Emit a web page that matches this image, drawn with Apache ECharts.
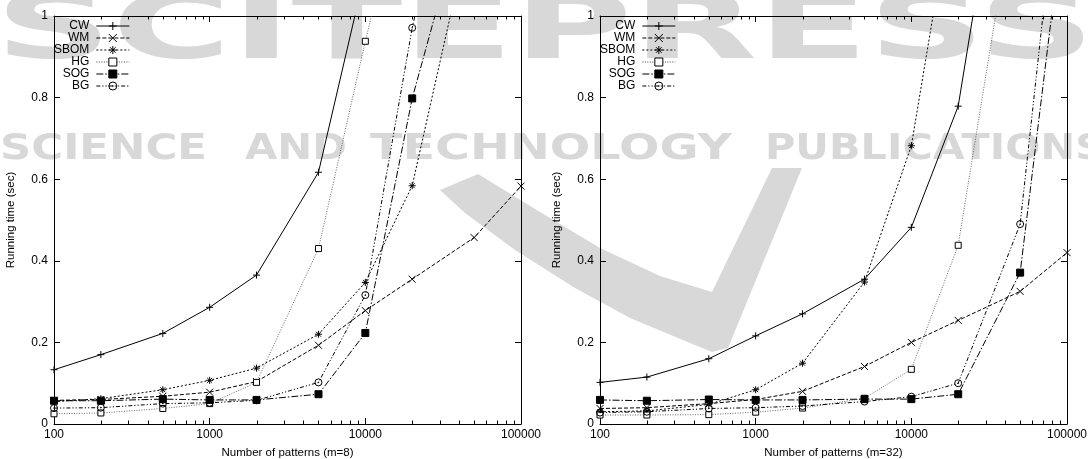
<!DOCTYPE html>
<html>
<head>
<meta charset="utf-8">
<script src="https://cdn.jsdelivr.net/npm/echarts@6/dist/echarts.min.js"></script>
<style>
html,body{margin:0;padding:0;background:#fff;}
#chart{width:1088px;height:459px;}
</style>
</head>
<body>
<div id="chart"></div>
<script>
// ---------- data ----------
const patterns = [100, 200, 500, 1000, 2000, 5000, 10000, 20000, 50000, 100000];
const seriesNames = ['CW', 'WM', 'SBOM', 'HG', 'SOG', 'BG'];
const minorTickValues = [200,300,400,500,600,700,800,900,2000,3000,4000,5000,6000,7000,8000,9000,20000,30000,40000,50000,60000,70000,80000,90000];
const yTickLabels = ['0', '0.2', '0.4', '0.6', '0.8', '1'];
const xTitles = ['Number of patterns (m=8)', 'Number of patterns (m=32)'];
const yTitle = 'Running time (sec)';

// m = 8 (left panel)
const cw8   = [0.133, 0.170, 0.222, 0.286, 0.365, 0.617, 1.11];
const wm8   = [0.058, 0.060, 0.068, 0.078, 0.104, 0.193, 0.278, 0.355, 0.457, 0.583];
const sbom8 = [0.055, 0.062, 0.084, 0.107, 0.137, 0.220, 0.347, 0.584, 1.26];
const hg8   = [0.025, 0.027, 0.038, 0.050, 0.102, 0.430, 0.938, 1.41];
const sog8  = [0.057, 0.057, 0.061, 0.059, 0.059, 0.073, 0.223, 0.798, 1.35];
const bg8   = [0.039, 0.040, 0.050, 0.052, 0.058, 0.102, 0.316, 0.971, 1.64];

// m = 32 (right panel)
const cw32   = [0.102, 0.115, 0.160, 0.216, 0.270, 0.355, 0.482, 0.779, 1.71];
const wm32   = [0.038, 0.040, 0.050, 0.060, 0.080, 0.141, 0.200, 0.254, 0.325, 0.420];
const sbom32 = [0.030, 0.032, 0.048, 0.084, 0.149, 0.348, 0.682, 1.37];
const hg32   = [0.022, 0.022, 0.023, 0.029, 0.039, 0.063, 0.134, 0.438, 1.37];
const sog32  = [0.059, 0.057, 0.060, 0.059, 0.059, 0.061, 0.061, 0.073, 0.371, 1.31];
const bg32   = [0.028, 0.030, 0.038, 0.040, 0.044, 0.055, 0.067, 0.100, 0.490, 1.54];

const panels = [
  [cw8, wm8, sbom8, hg8, sog8, bg8],
  [cw32, wm32, sbom32, hg32, sog32, bg32]
];

// ---------- styles ----------
const FONT = 'Liberation Sans, Arial, Helvetica, sans-serif';
const styles = {
  CW:   {symbol: 'path://M5,0L5,10M0,5L10,5', size: 7, fill: 'rgba(0,0,0,0)', dash: 'solid', lw: 1},
  WM:   {symbol: 'path://M0,0L10,10M10,0L0,10', size: 7, fill: 'rgba(0,0,0,0)', dash: [4, 2], lw: 1},
  SBOM: {symbol: 'path://M5,0L5,10M0,5L10,5M1.5,1.5L8.5,8.5M8.5,1.5L1.5,8.5', size: 7, fill: 'rgba(0,0,0,0)', dash: [2, 2], lw: 1},
  HG:   {symbol: 'rect', size: 6, fill: '#fff', dash: [1, 1.5], lw: 0.8, color: '#444'},
  SOG:  {symbol: 'rect', size: 7, fill: '#000', dash: [7, 2, 1.5, 2], lw: 1},
  BG:   {symbol: 'path://M10,5A5,5 0 1 1 0,5A5,5 0 1 1 10,5ZM5.5,5A0.5,0.5 0 1 1 4.5,5A0.5,0.5 0 1 1 5.5,5Z', size: 7, fill: 'rgba(0,0,0,0)', dash: [4, 2, 1.2, 2, 1.2, 2], lw: 1}
};

// ---------- layout ----------
const W = 1088, H = 459;
const gridsPx = [
  {left: 54, right: W - 521, top: 16, bottom: H - 424},
  {left: 600, right: W - 1067, top: 16, bottom: H - 424}
];

const grids = [], xAxes = [], yAxes = [], series = [], legends = [];

gridsPx.forEach((g, gi) => {
  grids.push({left: g.left, right: g.right, top: g.top, bottom: g.bottom,
    containLabel: false, outerBoundsMode: 'none'});
  const axisLine = {show: true, onZero: false, lineStyle: {color: '#000', width: 1}};
  xAxes.push({
    type: 'log', logBase: 10, min: 100, max: 100000, gridIndex: gi, position: 'bottom',
    axisLine, splitLine: {show: false},
    axisTick: {show: true, inside: true, length: 6, lineStyle: {color: '#000'}},
    axisLabel: {show: true, color: '#000', fontFamily: FONT, fontSize: 12, margin: 5,
      formatter: v => String(Math.round(v))},
    name: xTitles[gi], nameLocation: 'middle', nameGap: 23,
    nameTextStyle: {color: '#000', fontFamily: FONT, fontSize: 11.5}
  });
  xAxes.push({
    type: 'log', logBase: 10, min: 100, max: 100000, gridIndex: gi, position: 'top',
    axisLine, splitLine: {show: false},
    axisTick: {show: true, inside: true, length: 6, lineStyle: {color: '#000'}},
    axisLabel: {show: false}
  });
  yAxes.push({
    type: 'value', min: 0, max: 1, interval: 0.2, gridIndex: gi, position: 'left',
    axisLine, splitLine: {show: false},
    axisTick: {show: true, inside: true, length: 6, lineStyle: {color: '#000'}},
    axisLabel: {show: true, color: '#000', fontFamily: FONT, fontSize: 12, margin: 6,
      formatter: (v) => yTickLabels[Math.round(v / 0.2)]},
    name: yTitle, nameLocation: 'middle', nameGap: 37, nameRotate: 90,
    nameTextStyle: {color: '#000', fontFamily: FONT, fontSize: 11.5}
  });
  yAxes.push({
    type: 'value', min: 0, max: 1, interval: 0.2, gridIndex: gi, position: 'right',
    axisLine, splitLine: {show: false},
    axisTick: {show: true, inside: true, length: 6, lineStyle: {color: '#000'}},
    axisLabel: {show: false}
  });

  seriesNames.forEach((name, si) => {
    const st = styles[name];
    const vals = panels[gi][si];
    series.push({
      type: 'line', name, xAxisIndex: gi * 2, yAxisIndex: gi * 2,
      data: vals.map((v, i) => [patterns[i], v]),
      symbol: st.symbol, symbolSize: st.size, showSymbol: true, showAllSymbol: true,
      clip: true, smooth: false, animation: false, silent: true,
      lineStyle: {color: st.color || '#000', width: st.lw, type: st.dash},
      itemStyle: {color: st.fill, borderColor: '#000', borderWidth: 1, opacity: 1},
      emphasis: {disabled: true}, z: 3 + si
    });
  });

  series.push({
    type: 'custom', name: 'minor' + gi, xAxisIndex: gi * 2, yAxisIndex: gi * 2,
    data: minorTickValues.map(v => [v, 0]), silent: true, animation: false, clip: false,
    renderItem: (params, api) => {
      const v = api.value(0);
      const b = api.coord([v, 0]);
      const t = api.coord([v, 1]);
      const x = Math.round(b[0]) + 0.5;
      return {type: 'group', children: [
        {type: 'line', shape: {x1: x, y1: b[1], x2: x, y2: b[1] - 3.5}, style: {stroke: '#000', lineWidth: 1}},
        {type: 'line', shape: {x1: x, y1: t[1], x2: x, y2: t[1] + 3.5}, style: {stroke: '#000', lineWidth: 1}}
      ]};
    }
  });

  legends.push({
    data: seriesNames, orient: 'vertical', align: 'right',
    left: g.left, top: 20, itemWidth: 33, itemHeight: 10, itemGap: 0,
    selectedMode: false, padding: 0,
    lineStyle: {width: 1},
    itemStyle: {borderWidth: 1},
    textStyle: {color: '#000', fontFamily: FONT, fontSize: 12, lineHeight: 11.5, padding: [0, 2, 0, 0]},
    inactiveColor: '#000'
  });
});

// ---------- watermark (decoration) ----------
const WM_GRAY = '#d8d8d8';
const mctx = document.createElement('canvas').getContext('2d');
function wordEl(text, x0, x1, yTop, capH) {
  const fs = capH / 0.73;
  const font = 'bold ' + fs + 'px "DejaVu Sans"';
  mctx.font = font;
  const w = mctx.measureText(text).width;
  return {
    type: 'text', x: x0, y: yTop - fs * 0.2, scaleX: (x1 - x0) / w, z: -10, silent: true,
    style: {text, font, fill: WM_GRAY, textAlign: 'left', textVerticalAlign: 'top'}
  };
}
const watermark = [
  wordEl('SCITEPRESS', -5, 1095, 8, 66),
  wordEl('SCIENCE', 0, 207, 139, 26),
  wordEl('AND', 245, 347, 139, 26),
  wordEl('TECHNOLOGY', 370, 732, 139, 26),
  wordEl('PUBLICATIONS', 765, 1105, 139, 26),
  {type: 'polygon', z: -10, silent: true,
    shape: {points: [[440,190],[478,174],[540,212],[600,248],[660,276],[712,292],[772,168],[802,168],[728,348],[712,352],[690,343],[630,318],[575,288],[515,250],[465,213]]},
    style: {fill: WM_GRAY}}
];

const chart = echarts.init(document.getElementById('chart'), null, {renderer: 'canvas'});
chart.setOption({
  backgroundColor: '#fff',
  animation: false,
  graphic: watermark,
  grid: grids,
  xAxis: xAxes,
  yAxis: yAxes,
  legend: legends,
  series
});
</script>
</body>
</html>
